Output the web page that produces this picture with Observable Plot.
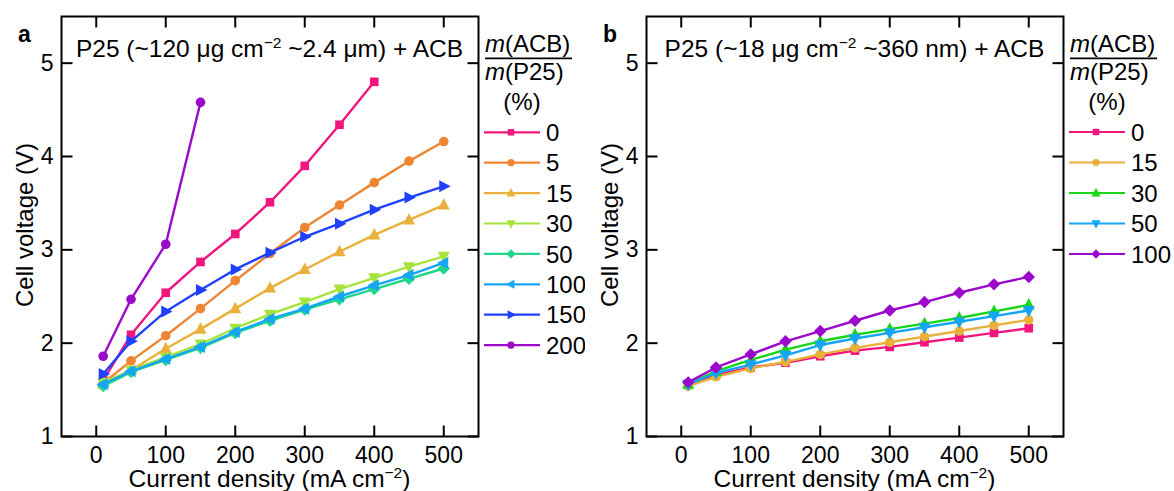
<!DOCTYPE html>
<html><head><meta charset="utf-8">
<script src="https://cdn.jsdelivr.net/npm/d3@7"></script>
<script src="https://cdn.jsdelivr.net/npm/@observablehq/plot@0.6"></script>
<style>
html,body{margin:0;padding:0;background:#fff;}
#root{position:relative;width:1174px;height:491px;font-family:"Liberation Sans",Arial,Helvetica,sans-serif;}
</style></head><body><div id="root"></div>
<script>
// ---- data ----
const xValues = [10, 50, 100, 150, 200, 250, 300, 350, 400, 450, 500];
const xTicks = [0, 100, 200, 300, 400, 500];
const yTicks = [1, 2, 3, 4, 5];

// panel a
const seriesA = ["0", "5", "15", "30", "50", "100", "150", "200"];
const colorsA = ["#f0157f", "#ef8532", "#e9b03a", "#a6e43c", "#20d68a", "#14a5f5", "#1f40ff", "#9b0acb"];
const symbolsA = ["square", "circle", "triangleUp", "triangleDown", "diamond", "triangleLeft", "triangleRight", "circle"];
const vA0   = [1.60, 2.09, 2.54, 2.87, 3.17, 3.51, 3.90, 4.34, 4.80];
const vA5   = [1.57, 1.81, 2.08, 2.37, 2.67, 2.96, 3.24, 3.48, 3.72, 3.95, 4.16];
const vA15  = [1.56, 1.71, 1.94, 2.15, 2.37, 2.59, 2.79, 2.98, 3.16, 3.32, 3.48];
const vA30  = [1.58, 1.71, 1.85, 1.99, 2.16, 2.31, 2.44, 2.58, 2.70, 2.82, 2.93];
const vA50  = [1.54, 1.69, 1.82, 1.95, 2.11, 2.24, 2.36, 2.47, 2.58, 2.69, 2.80];
const vA100 = [1.56, 1.70, 1.83, 1.96, 2.12, 2.26, 2.37, 2.50, 2.62, 2.73, 2.86];
const vA150 = [1.67, 2.02, 2.34, 2.57, 2.79, 2.97, 3.14, 3.28, 3.43, 3.56, 3.68];
const vA200 = [1.86, 2.47, 3.06, 4.58];
const valuesA = [vA0, vA5, vA15, vA30, vA50, vA100, vA150, vA200];

// panel b
const seriesB = ["0", "15", "30", "50", "100"];
const colorsB = ["#f0157f", "#e9b03a", "#16d616", "#14a5f5", "#9b0acb"];
const symbolsB = ["square", "circle", "triangleUp", "triangleDown", "diamond"];
const vB0   = [1.56, 1.66, 1.74, 1.79, 1.86, 1.92, 1.96, 2.01, 2.06, 2.11, 2.16];
const vB15  = [1.54, 1.64, 1.73, 1.80, 1.88, 1.95, 2.01, 2.07, 2.13, 2.19, 2.25];
const vB30  = [1.56, 1.70, 1.82, 1.93, 2.02, 2.09, 2.15, 2.21, 2.27, 2.34, 2.41];
const vB50  = [1.56, 1.68, 1.77, 1.87, 1.98, 2.05, 2.11, 2.17, 2.23, 2.29, 2.35];
const vB100 = [1.58, 1.74, 1.88, 2.02, 2.13, 2.24, 2.35, 2.44, 2.54, 2.63, 2.71];
const valuesB = [vB0, vB15, vB30, vB50, vB100];

// ---- symbols ----
function sym(fn) { return {draw(c, size) { fn(c, Math.sqrt(size / Math.PI)); }}; }
const SYM = {
  square: sym((c, r) => { const h = r * 0.9; c.moveTo(-h, -h); c.lineTo(h, -h); c.lineTo(h, h); c.lineTo(-h, h); c.closePath(); }),
  circle: sym((c, r) => { c.moveTo(r, 0); c.arc(0, 0, r, 0, 2 * Math.PI); c.closePath(); }),
  triangleUp: sym((c, r) => { const a = r * 1.25; c.moveTo(0, -a * 1.15); c.lineTo(a, a * 0.75); c.lineTo(-a, a * 0.75); c.closePath(); }),
  triangleDown: sym((c, r) => { const a = r * 1.25; c.moveTo(0, a * 1.15); c.lineTo(a, -a * 0.75); c.lineTo(-a, -a * 0.75); c.closePath(); }),
  triangleLeft: sym((c, r) => { const a = r * 1.25; c.moveTo(-a * 1.15, 0); c.lineTo(a * 0.75, a); c.lineTo(a * 0.75, -a); c.closePath(); }),
  triangleRight: sym((c, r) => { const a = r * 1.25; c.moveTo(a * 1.15, 0); c.lineTo(-a * 0.75, a); c.lineTo(-a * 0.75, -a); c.closePath(); }),
  diamond: sym((c, r) => { const a = r * 1.3; c.moveTo(0, -a); c.lineTo(a, 0); c.lineTo(0, a); c.lineTo(-a, 0); c.closePath(); })
};
// inward tick glyphs (11 px long)
const TICK = 11;
const tickUp    = {draw(c) { c.moveTo(0, 0); c.lineTo(0, -TICK); }};
const tickDown  = {draw(c) { c.moveTo(0, 0); c.lineTo(0, TICK); }};
const tickRight = {draw(c) { c.moveTo(0, 0); c.lineTo(TICK, 0); }};
const tickLeft  = {draw(c) { c.moveTo(0, 0); c.lineTo(-TICK, 0); }};

const FONT = '"Liberation Sans", Arial, Helvetica, sans-serif';
const ML = 61, MT = 16, MB = 55, FW = 417, H = 491;

function drawPanel(opts) {
  const {left, width, letter, titleA, titleB, series, colors, symbols, values, legendTop, legendStep} = opts;
  const marks = [];
  series.forEach((s, i) => {
    const data = values[i].map((v, j) => ({x: xValues[j], y: v}));
    marks.push(Plot.line(data, {x: "x", y: "y", stroke: colors[i], strokeWidth: 2.4}));
    marks.push(Plot.dot(data, {x: "x", y: "y", symbol: SYM[symbols[i]], fill: colors[i], r: 4.8}));
  });
  marks.push(Plot.axisX({ticks: xTicks, tickSize: 0, tickPadding: 10, tickFormat: d3.format("d"), label: null, fontSize: 23}));
  marks.push(Plot.axisY({ticks: yTicks, tickSize: 0, tickPadding: 8, tickFormat: d3.format("d"), label: null, fontSize: 23}));
  // inward ticks on all four sides
  const tickStyle = {fill: "none", stroke: "black", strokeWidth: 2};
  marks.push(Plot.dot(xTicks, {x: d => d, frameAnchor: "bottom", symbol: tickUp, ...tickStyle}));
  marks.push(Plot.dot(xTicks, {x: d => d, frameAnchor: "top", symbol: tickDown, ...tickStyle}));
  marks.push(Plot.dot(yTicks, {y: d => d, frameAnchor: "left", symbol: tickRight, ...tickStyle}));
  marks.push(Plot.dot(yTicks, {y: d => d, frameAnchor: "right", symbol: tickLeft, ...tickStyle}));
  marks.push(Plot.frame({stroke: "black", strokeWidth: 2}));

  const svg = Plot.plot({
    width, height: H,
    marginLeft: ML, marginRight: width - ML - FW, marginTop: MT, marginBottom: MB,
    x: {domain: [-50, 550]},
    y: {domain: [1, 5.5]},
    style: {fontFamily: FONT, fontSize: "23px", position: "absolute", left: left + "px", top: "0px", background: "none"},
    marks
  });

  const g = d3.select(svg).append("g").attr("font-family", FONT).attr("fill", "#000").attr("text-anchor", "start");
  g.append("text").attr("x", 18).attr("y", 41.7).attr("font-size", 23).attr("font-weight", "bold").text(letter);
  const t = g.append("text").attr("x", ML + FW / 2).attr("y", 56.7).attr("text-anchor", "middle").attr("font-size", 24.5);
  t.append("tspan").text(titleA);
  t.append("tspan").attr("dy", -9).attr("font-size", 15.5).text("\u22122");
  t.append("tspan").attr("dy", 9).text(titleB);
  const xl = g.append("text").attr("x", ML + FW / 2).attr("y", 486.5).attr("text-anchor", "middle").attr("font-size", 24.5);
  xl.append("tspan").text("Current density (mA cm");
  xl.append("tspan").attr("dy", -9).attr("font-size", 15.5).text("\u22122");
  xl.append("tspan").attr("dy", 9).text(")");
  g.append("text").attr("transform", "translate(33,225) rotate(-90)").attr("text-anchor", "middle").attr("font-size", 24).text("Cell voltage (V)");

  const lx = ML + FW + 6;
  const h1 = g.append("text").attr("x", lx + 1).attr("y", 51.7).attr("font-size", 24);
  h1.append("tspan").attr("font-style", "italic").text("m");
  h1.append("tspan").text("(ACB)");
  g.append("line").attr("x1", lx + 1).attr("x2", lx + 88).attr("y1", 58.3).attr("y2", 58.3).attr("stroke", "#000").attr("stroke-width", 1.8);
  const h2 = g.append("text").attr("x", lx + 1).attr("y", 80).attr("font-size", 24);
  h2.append("tspan").attr("font-style", "italic").text("m");
  h2.append("tspan").text("(P25)");
  g.append("text").attr("x", lx + 38).attr("y", 110).attr("text-anchor", "middle").attr("font-size", 24).text("(%)");
  series.forEach((s, i) => {
    const y = legendTop + i * legendStep;
    g.append("line").attr("x1", lx).attr("x2", lx + 56).attr("y1", y).attr("y2", y).attr("stroke", colors[i]).attr("stroke-width", 2.2);
    const p = d3.path();
    SYM[symbols[i]].draw(p, Math.PI * 3.6 * 3.6);
    g.append("path").attr("d", p.toString()).attr("transform", `translate(${lx + 27},${y})`).attr("fill", colors[i]);
    g.append("text").attr("x", lx + 62).attr("y", y + 8.6).attr("font-size", 24).text(s);
  });

  document.getElementById("root").appendChild(svg);
}

drawPanel({left: 0, width: 585, letter: "a", titleA: "P25 (~120 \u03bcg cm", titleB: " ~2.4 \u03bcm) + ACB",
  series: seriesA, colors: colorsA, symbols: symbolsA, values: valuesA, legendTop: 132.3, legendStep: 30.4});
drawPanel({left: 585, width: 589, letter: "b", titleA: "P25 (~18 \u03bcg cm", titleB: " ~360 nm) + ACB",
  series: seriesB, colors: colorsB, symbols: symbolsB, values: valuesB, legendTop: 132, legendStep: 30.5});
</script></body></html>
